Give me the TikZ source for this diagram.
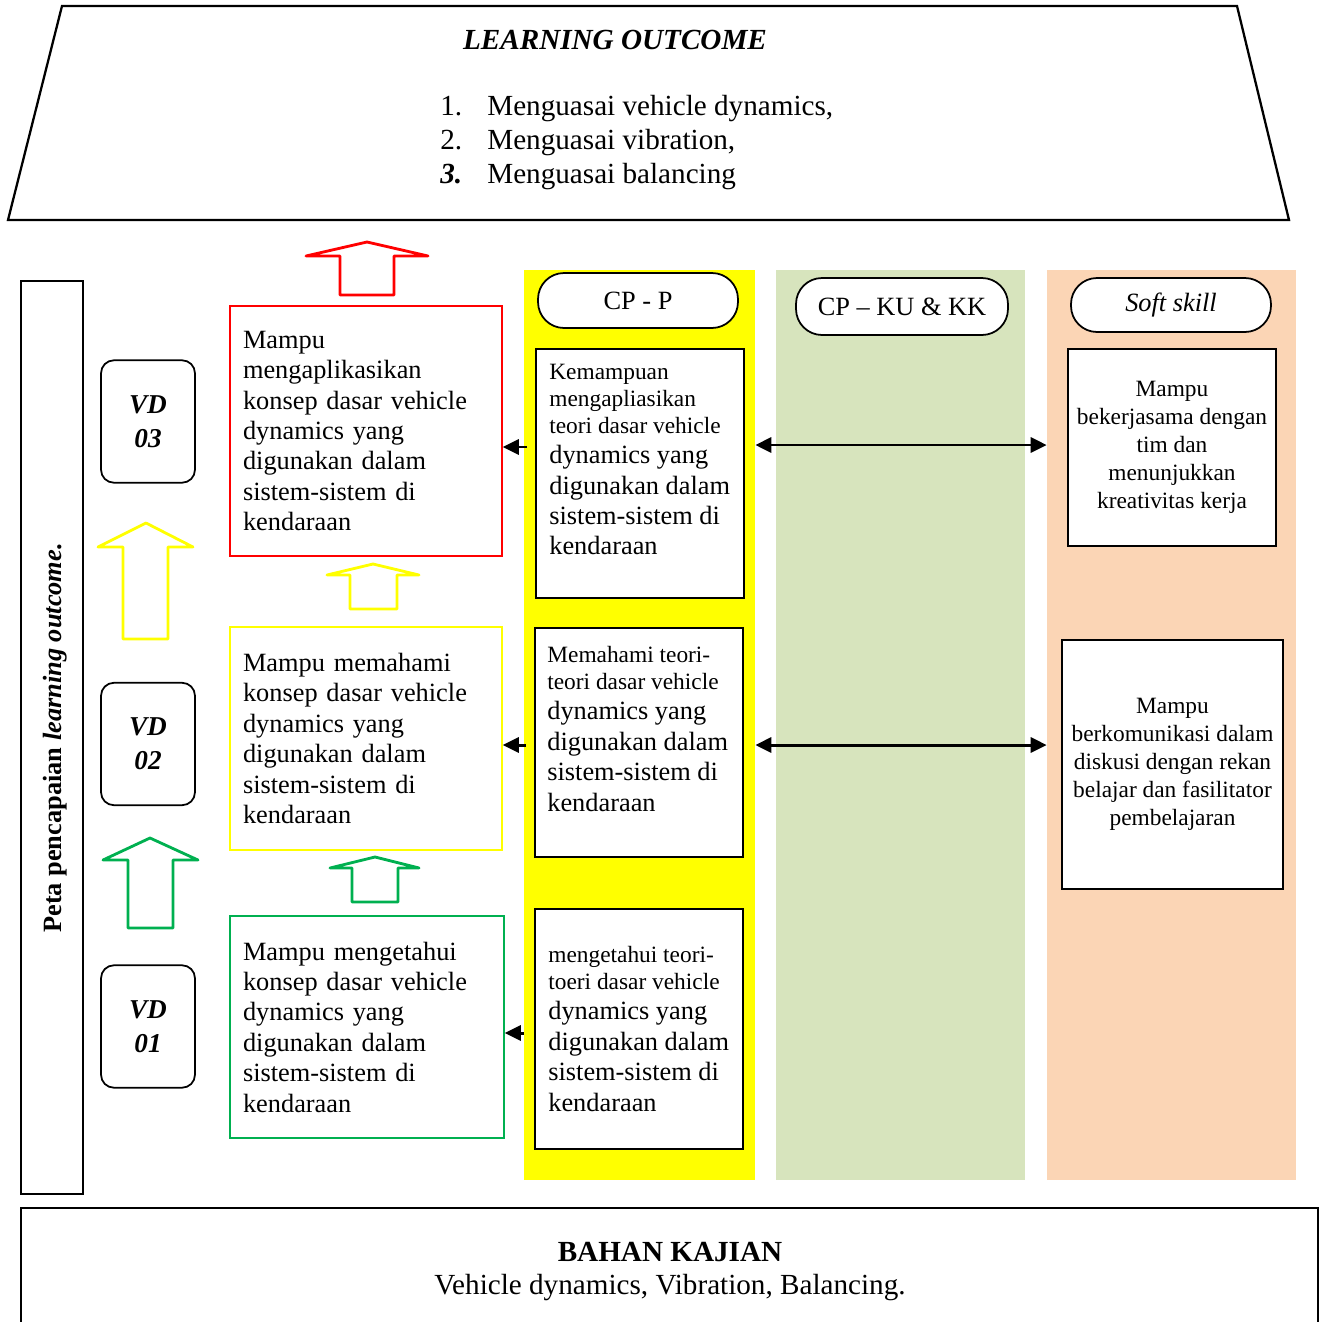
\documentclass[tikz,border=0pt]{standalone}
\usepackage{fontspec}
\setmainfont{Liberation Serif}
\usetikzlibrary{arrows.meta,calc}
\definecolor{lored}{HTML}{FF0000}
\definecolor{loyellow}{HTML}{FFFF00}
\definecolor{logreen}{HTML}{00B050}
\definecolor{colgreen}{HTML}{D7E4BD}
\definecolor{colpeach}{HTML}{FBD5B5}
\newcommand\fsHuge{\fontsize{16.6}{19.3}\selectfont}
\newcommand\fsBig{\fontsize{15}{17.3}\selectfont\spaceskip=0.25em\relax}
\newcommand\fsSmall{\fontsize{13.3}{15.3}\selectfont\spaceskip=0.25em\relax}
\newcommand\fsSoft{\fontsize{13.3}{15.9}\selectfont}
\begin{document}
\begin{tikzpicture}[x=0.02cm,y=-0.02cm,
  blk/.style={draw=black,line width=1pt},
  lobox/.style={line width=0.9pt,font=\fsBig,align=left,inner xsep=0.26cm,inner ysep=0pt},
  cpbox/.style={blk,fill=white,inner sep=0pt},
  cptext/.style={anchor=north west,inner sep=0pt,text width=3.9cm,align=left,font=\fsBig},
  softbox/.style={blk,fill=white,font=\fsSoft,align=center,inner sep=2pt},
  pill/.style={blk,fill=white,rounded corners=0.52cm,inner sep=0pt,font=\fsBig},
  vdbox/.style={blk,rounded corners=0.26cm,minimum width=1.88cm,minimum height=2.45cm,inner sep=0pt,
    font=\fontsize{15.5}{19.3}\selectfont\bfseries\itshape,align=center},
  col/.style={draw=none,minimum width=#1,minimum height=18.2cm,inner sep=0pt},
  arr/.style={line width=1.7pt,-{Triangle[length=0.32cm,width=0.3cm]}},
  darr/.style={line width=1.7pt,{Triangle[length=0.32cm,width=0.3cm]}-{Triangle[length=0.32cm,width=0.3cm]}},
  barrow/.style={line width=1.6pt,line join=round}]
\useasboundingbox (0,0) rectangle (1323,1322);

% Top trapezoid: learning outcome
\draw[line width=1.3pt] (62,6) -- (1237,6) -- (1289,220) -- (8,220) -- cycle;
\node[anchor=base,font=\fsHuge\bfseries\itshape] (lotitle) at (615,49) {LEARNING OUTCOME};
\node[anchor=base west,font=\fsHuge,inner sep=0pt] (lo1) at (440,115) {\makebox[0.94cm][l]{1.}Menguasai vehicle dynamics,};
\node[anchor=base west,font=\fsHuge,inner sep=0pt] (lo2) at (440,149) {\makebox[0.94cm][l]{2.}Menguasai vibration,};
\node[anchor=base west,font=\fsHuge,inner sep=0pt] (lo3t) at (440,183) {\makebox[0.94cm][l]{\textbf{\textit{3.}}}Menguasai balancing};

% Columns
\node[col=4.62cm,fill=loyellow] (colY) at (639.5,725) {};
\node[col=4.98cm,fill=colgreen] (colG) at (900.5,725) {};
\node[col=4.98cm,fill=colpeach] (colP) at (1171.5,725) {};

% Pills
\node[pill,minimum width=4cm,minimum height=1.1cm] (pillP) at (638,300.5) {CP - P};
\node[pill,minimum width=4.24cm,minimum height=1.14cm] (pillKU) at (902,306.5) {CP – KU \& KK};
\node[pill,minimum width=4cm,minimum height=1.08cm] (pillS) at (1171,305) {\itshape Soft skill};

% Left vertical box
\node[blk,minimum width=1.24cm,minimum height=18.26cm,inner sep=0pt] (peta) at (52,737.5) {};
\node[rotate=90,font=\fontsize{15}{17}\selectfont\bfseries] (petatext) at (55,738) {Peta pencapaian \textit{learning outcome.}};

% VD boxes
\node[vdbox] (vd3) at (148,421.5) {VD\\03};
\node[vdbox] (vd2) at (148,744) {VD\\02};
\node[vdbox] (vd1) at (148,1026.5) {VD\\01};

% Learning outcome boxes
\node[lobox,draw=lored,text width=4.92cm,minimum height=5cm] (lob3) at (366,431)
  {Mampu\\mengaplikasikan\\konsep dasar vehicle\\dynamics yang\\digunakan dalam\\sistem-sistem di\\kendaraan};
\node[lobox,draw=loyellow,text width=4.92cm,minimum height=4.46cm] (lob2) at (366,738.5)
  {Mampu memahami\\konsep dasar vehicle\\dynamics yang\\digunakan dalam\\sistem-sistem di\\kendaraan};
\node[lobox,draw=logreen,text width=4.96cm,minimum height=4.44cm] (lob1) at (367,1027)
  {Mampu mengetahui\\konsep dasar vehicle\\dynamics yang\\digunakan dalam\\sistem-sistem di\\kendaraan};

% Block arrows
\draw[barrow,draw=lored] (340,295) -- (340,256) -- (306,256) -- (367,242) -- (428,256) -- (394,256) -- (394,295) -- cycle;
\draw[barrow,draw=loyellow] (123,639) -- (123,547) -- (98,547) -- (146,523) -- (193,547) -- (168,547) -- (168,639) -- cycle;
\draw[barrow,draw=logreen] (128,928) -- (128,860) -- (103,860) -- (150,838) -- (198,860) -- (173,860) -- (173,928) -- cycle;
\draw[barrow,draw=loyellow] (350,609) -- (350,575) -- (327,575) -- (373,564) -- (419,575) -- (397,575) -- (397,609) -- cycle;
\draw[barrow,draw=logreen] (352,902) -- (352,868) -- (330,868) -- (375,857) -- (419,868) -- (398,868) -- (398,902) -- cycle;

% CP-P boxes
\node[cpbox,minimum width=4.16cm,minimum height=4.98cm] (cp1) at (640,473.5) {};
\node[cptext] (cp1t) at (549,364) {\fsSmall Kemampuan\\mengapliasikan\\teori dasar vehicle\\\fsBig dynamics yang\\digunakan dalam\\sistem-sistem di\\kendaraan};
\node[cpbox,minimum width=4.16cm,minimum height=4.58cm] (cp2) at (639,742.5) {};
\node[cptext] (cp2t) at (547,646) {\fsSmall Memahami teori-\\teori dasar vehicle\\\fsBig dynamics yang\\digunakan dalam\\sistem-sistem di\\kendaraan};
\node[cpbox,minimum width=4.16cm,minimum height=4.8cm] (cp3) at (639,1029) {};
\node[cptext] (cp3t) at (548,946) {\fsSmall mengetahui teori-\\toeri dasar vehicle\\\fsBig dynamics yang\\digunakan dalam\\sistem-sistem di\\kendaraan};

% Soft skill boxes
\node[softbox,minimum width=4.16cm,minimum height=3.94cm] (soft1) at (1172,447.5)
  {Mampu\\bekerjasama dengan\\tim dan\\menunjukkan\\kreativitas kerja};
\node[softbox,minimum width=4.42cm,minimum height=4.98cm] (soft2) at (1172.5,764.5)
  {Mampu\\berkomunikasi dalam\\diskusi dengan rekan\\belajar dan fasilitator\\pembelajaran};

% Connectors
\draw[arr] (cp1.west |- 0,447) ++(-8,0) -- (lob3.east |- 0,447);
\draw[arr] (cp2.west |- 0,745) ++(-8,0) -- (lob2.east |- 0,745);
\draw[arr] (cp3.west |- 0,1033) ++(-10,0) -- (lob1.east |- 0,1033);
\draw[darr] (colY.east |- 0,445) -- (colP.west |- 0,445);
\draw[darr] (colY.east |- 0,745) -- (colP.west |- 0,745);

% Bottom box
\draw[line width=1.2pt] (21,1340) -- (21,1208) -- (1318,1208) -- (1318,1340);
\node[anchor=base,font=\fsHuge\bfseries] (bk) at (670,1261) {BAHAN KAJIAN};
\node[anchor=base,font=\fsHuge] (bk2) at (670,1294) {Vehicle dynamics, Vibration, Balancing.};
\end{tikzpicture}
\end{document}
